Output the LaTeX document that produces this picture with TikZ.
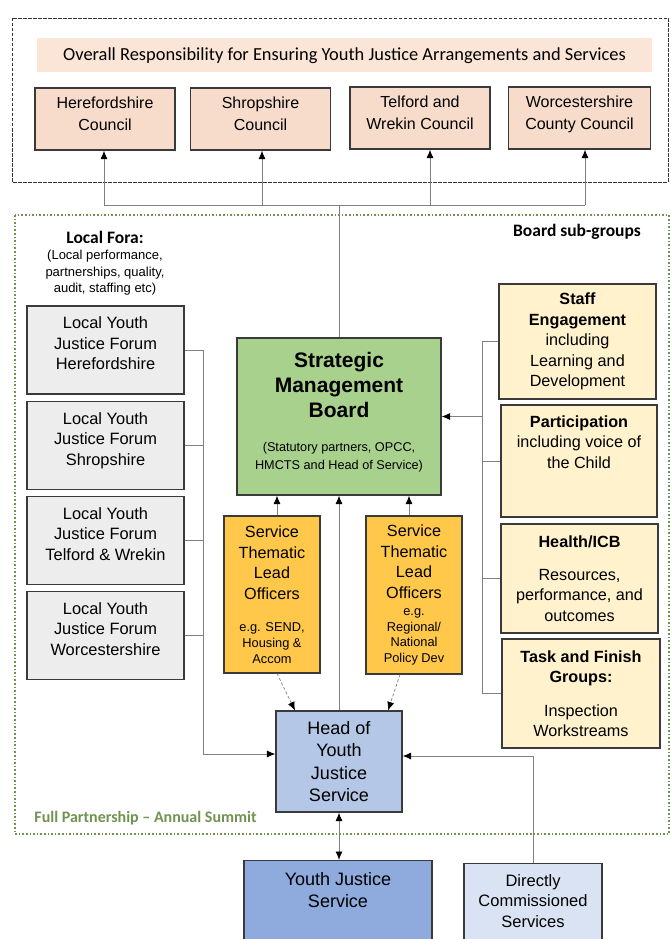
\documentclass[tikz,border=0pt]{standalone}
\usepackage{fontspec}
\setmainfont{Liberation Sans}
\newfontfamily\calibri{Carlito}
\usetikzlibrary{arrows.meta}

\definecolor{peach}{HTML}{FBE5D6}
\definecolor{councilpk}{HTML}{F8DCCB}
\definecolor{forumgray}{HTML}{EDEDED}
\definecolor{smbgreen}{HTML}{A9D18E}
\definecolor{leadgold}{HTML}{FFC84A}
\definecolor{subcream}{HTML}{FFF2CC}
\definecolor{headblue}{HTML}{B4C7E7}
\definecolor{yjsblue}{HTML}{8FAADC}
\definecolor{dcsblue}{HTML}{DAE3F3}
\definecolor{edgegray}{HTML}{3A3A3A}
\definecolor{wiregray}{HTML}{808080}
\definecolor{summit}{HTML}{6E944F}

\newcommand\smallfs{\fontsize{12.8}{15}\selectfont}

\tikzset{
  box/.style={draw=edgegray, line width=1.1pt, align=center, inner sep=0pt},
  council/.style={box, fill=councilpk, minimum width=140pt, minimum height=62pt,
    text depth=10pt, font=\fontsize{16}{22}\selectfont},
  forum/.style={box, fill=forumgray, minimum width=157pt, minimum height=88pt,
    text depth=13pt, font=\fontsize{16.4}{20.5}\selectfont},
  lead/.style={box, fill=leadgold, minimum width=96pt, minimum height=157pt,
    font=\fontsize{16.2}{20.5}\selectfont},
  subgrp/.style={box, fill=subcream, minimum width=157pt,
    font=\fontsize{16.2}{20.5}\selectfont},
  wire/.style={draw=wiregray, line width=0.9pt},
  tip/.style={-{Latex[black,length=8.5pt,width=7pt]}},
  both/.style={{Latex[black,length=8.5pt,width=7pt]}-{Latex[black,length=8.5pt,width=7pt]}},
  leadlink/.style={wire, densely dashed, line width=0.7pt, tip},
  heading/.style={font=\calibri\bfseries\fontsize{17.5}{20}\selectfont},
}

\begin{document}
\begin{tikzpicture}[x=1pt, y=-1pt]
  \useasboundingbox (0,0) rectangle (671,939);
  \clip (0,0) rectangle (671,939);

  \draw[black!80, line width=0.8pt, dash pattern=on 3.5pt off 1.5pt] (12,18) rectangle (668,182);
  \draw[summit, line width=1.6pt, dash pattern=on 1.6pt off 2pt] (15,215) rectangle (669,834);

  \node[fill=peach, minimum width=615pt, minimum height=34pt, font=\calibri\fontsize{18.4}{20}\selectfont]
    (banner) at (344.5,55.5) {Overall Responsibility for Ensuring Youth Justice Arrangements and Services};

  \node[council] (hereford) at (105,119) {Herefordshire\\Council};
  \node[council] (shrop) at (260.5,119) {Shropshire\\Council};
  \node[council] (telford) at (420,118) {Telford and\\Wrekin Council};
  \node[council, minimum width=142pt] (worcs) at (579.5,118) {Worcestershire\\County Council};

  \coordinate (bus) at (340,205);
  \draw[wire] ([xshift=-1]hereford.south |- bus) -- ([xshift=5.5]worcs.south |- bus);
  \foreach \c/\dx in {hereford/-1, shrop/1.5, telford/10, worcs/5.5}
    \draw[wire,tip] ([xshift=\dx]\c.south |- bus) -- ([xshift=\dx]\c.south);

  \node[heading] (fora) at (105,237) {Local Fora:};
  \node[align=center, font=\fontsize{13}{16.5}\selectfont] (foranote) at (105,273)
    {(Local performance,\\partnerships, quality,\\audit, staffing etc)};
  \node[heading] (subhead) at (577,232) {Board sub-groups};
  \node[font=\calibri\bfseries\fontsize{16}{18}\selectfont, text=summit] (summitlbl) at (145.5,818)
    {Full Partnership \textendash\ Annual Summit};

  \node[box, fill=smbgreen, minimum width=204pt, minimum height=157pt, text depth=11pt,
    font=\bfseries\fontsize{21}{25}\selectfont] (smb) at (339,416.5)
    {Strategic\\Management\\Board\\[9pt]{\mdseries\fontsize{12.7}{15}\selectfont (Statutory partners, OPCC,}\\[-7.7pt]{\mdseries\fontsize{12.7}{15}\selectfont HMCTS and Head of Service)}};
  \draw[wire] (smb.north) -- (smb.north |- bus);

  \foreach \n/\y/\t in {f1/350/Herefordshire, f2/445.5/Shropshire, f3/540.5/Telford \& Wrekin, f4/635.5/Worcestershire}
    \node[forum] (\n) at (105.5,\y) {Local Youth\\Justice Forum\\\t};

  \node[lead] (lead1) at (272,594.5)
    {Service\\Thematic\\Lead\\Officers\\[11.5pt]{\smallfs e.g. SEND,}\\[-4.5pt]{\smallfs Housing \&}\\[-4.5pt]{\smallfs Accom}};
  \node[lead, minimum height=158pt] (lead2) at (414,595)
    {Service\\Thematic\\Lead\\Officers\\[-3pt]{\smallfs e.g.}\\[-5pt]{\smallfs Regional/}\\[-5pt]{\smallfs National}\\[-5pt]{\smallfs Policy Dev}};

  \node[subgrp, minimum height=115pt] (staff) at (577.5,341.5)
    {\textbf{Staff}\\\textbf{Engagement}\\including\\Learning and\\Development};
  \node[subgrp, minimum width=156pt, minimum height=112pt] (partic) at (579,461) {};
  \node[anchor=north, align=center, inner sep=0pt, font=\fontsize{16.2}{20.5}\selectfont]
    (partictext) at ([yshift=-11]partic.north) {\textbf{Participation}\\including voice of\\the Child};
  \node[subgrp, minimum height=109pt] (health) at (579.5,578.5)
    {\textbf{Health/ICB}\\[12.5pt]Resources,\\performance, and\\outcomes};
  \node[subgrp, minimum width=158pt, minimum height=109pt] (task) at (581,693.5)
    {\textbf{Task and Finish}\\\textbf{Groups:}\\[13pt]Inspection\\Workstreams};

  \node[box, fill=headblue, minimum width=126pt, minimum height=101pt,
    font=\fontsize{18}{22.4}\selectfont] (hyjs) at (339,761.5) {Head of\\Youth\\Justice\\Service};

  \node[box, fill=yjsblue, anchor=north, minimum width=188pt, minimum height=100pt] (yjs) at (338,860) {};
  \node[anchor=north, align=center, inner sep=0pt, font=\fontsize{18}{22}\selectfont]
    (yjstext) at ([yshift=-12.5]yjs.north) {Youth Justice\\Service};
  \node[box, fill=dcsblue, anchor=north, minimum width=138pt, minimum height=100pt] (dcs) at (533,863) {};
  \node[anchor=north, align=center, inner sep=0pt, font=\fontsize{16.5}{20.5}\selectfont]
    (dcstext) at ([yshift=-11]dcs.north) {Directly\\Commissioned\\Services};

  \coordinate (fbus) at (203,754);
  \draw[wire] (f1.east) -- (f1.east -| fbus) -- (fbus);
  \foreach \n in {f2,f3,f4}
    \draw[wire] (\n.east) -- (\n.east -| fbus);
  \draw[wire,tip] (fbus) -- (fbus -| hyjs.west);

  \coordinate (sbus) at (482,416.5);
  \draw[wire] (staff.west -| sbus) -- (task.west -| sbus);
  \foreach \n in {staff,partic,health,task}
    \draw[wire] (\n.west) -- (\n.west -| sbus);
  \draw[wire,tip] (sbus) -- (smb.east);

  \draw[wire,tip] ([xshift=5]lead1.north) -- ([xshift=5]lead1.north |- smb.south);
  \draw[wire,tip] ([xshift=-5]lead2.north) -- ([xshift=-5]lead2.north |- smb.south);
  \draw[wire,tip] (hyjs.north) -- (hyjs.north |- smb.south);
  \draw[leadlink] ([xshift=5]lead1.south) -- ([xshift=-44]hyjs.north);
  \draw[leadlink] ([xshift=-14]lead2.south) -- ([xshift=49]hyjs.north);

  \draw[wire,both] (hyjs.south) -- (hyjs.south |- yjs.north);
  \coordinate (dbend) at (533,756);
  \draw[wire,tip] (dcs.north) -- (dcs.north |- dbend) -- (hyjs.east |- dbend);
\end{tikzpicture}
\end{document}
